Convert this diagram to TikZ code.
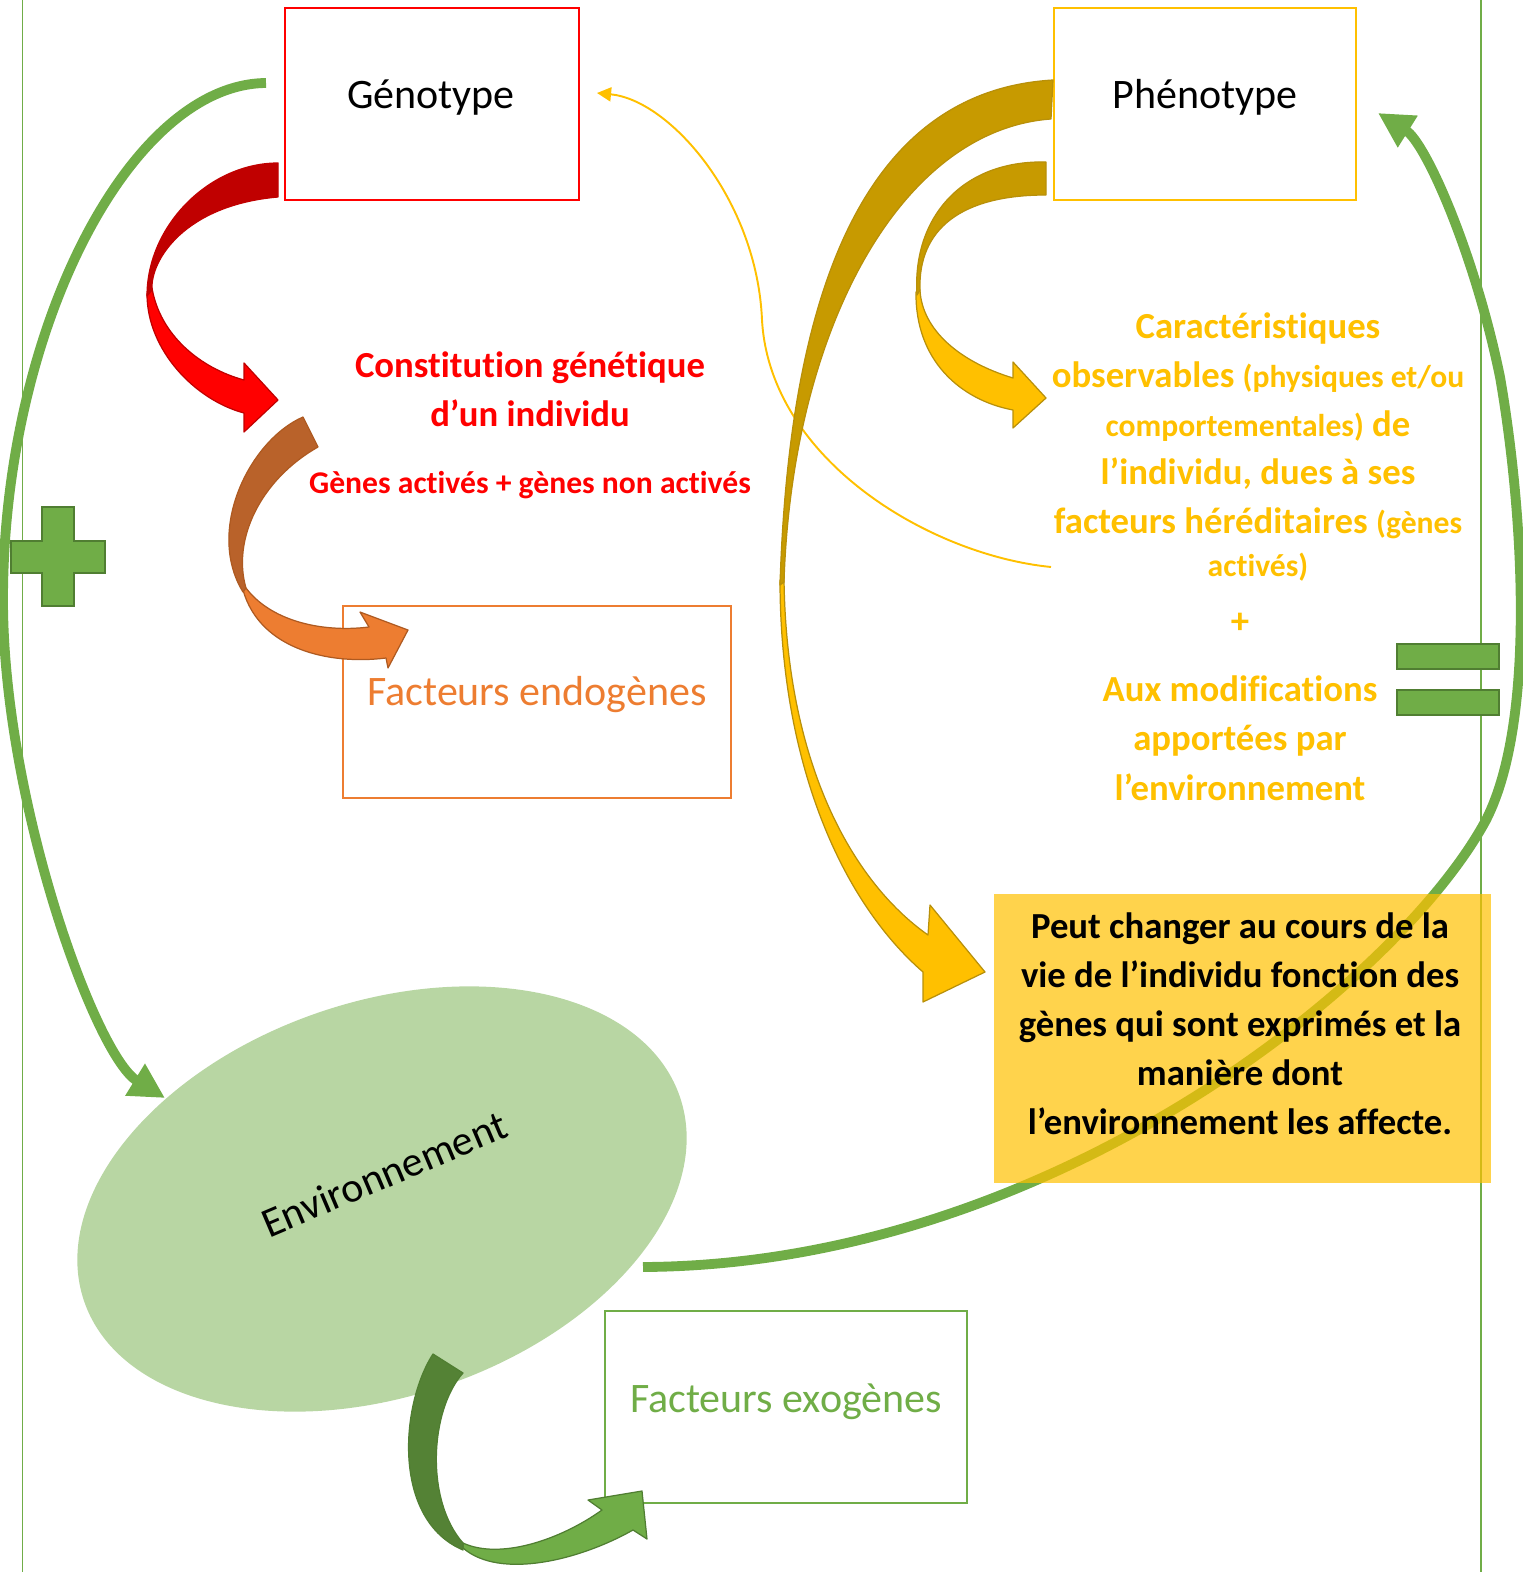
\documentclass[tikz,border=0pt]{standalone}
\usepackage{fontspec}
\setmainfont{Carlito}[Ligatures=NoCommon]
\usetikzlibrary{arrows.meta,shapes.geometric}
\definecolor{xgreen}{HTML}{70AD47}
\definecolor{xgreendk}{HTML}{548235}
\definecolor{xgreenln}{HTML}{507E32}
\definecolor{envgreen}{HTML}{B8D6A3}
\definecolor{xgold}{HTML}{FFC000}
\definecolor{xgolddk}{HTML}{C79A00}
\definecolor{xgoldln}{HTML}{B8900A}
\definecolor{xorange}{HTML}{ED7D31}
\definecolor{xbrown}{HTML}{B9622A}
\definecolor{xorangeln}{HTML}{AE5A21}
\definecolor{xred}{HTML}{FF0000}
\definecolor{xreddk}{HTML}{C00000}
\begin{document}
\begin{tikzpicture}[x=0.02cm,y=-0.02cm,
    box/.style={draw,line width=1pt,inner sep=0pt,minimum height=3.84cm},
    big/.style={anchor=base,font=\fontsize{23.9}{28}\selectfont},
    bold/.style={anchor=base,font=\bfseries\fontsize{20.9}{25}\selectfont},
    small/.style={anchor=base,font=\bfseries\fontsize{18}{22}\selectfont},
    garc/.style={draw=xgreen,line width=5.6pt,-{Triangle[length=20pt,width=20pt]}},
    blk/.style={line width=0.7pt,line join=round}]
    \useasboundingbox (0,0) rectangle (1523,1572);
    \draw[xgreen,line width=0.9pt] (22.5,0) -- (22.5,1572);
    \draw[xgreen,line width=0.9pt] (1481,0) -- (1481,1572);
    % boxes
    \node[box,draw=xred,minimum width=5.88cm] (geno) at (432,104) {};
    \node[box,draw=xgold,minimum width=6.04cm] (pheno) at (1205,104) {};
    \node[box,draw=xorange,minimum width=7.76cm] (endo) at (537,702) {};
    \node[box,draw=xgreen,minimum width=7.24cm] (exo) at (786,1407) {};
    \node[ellipse,fill=envgreen,inner sep=0pt,minimum width=12.6cm,minimum height=7.88cm,rotate=19] (env) at (382,1199) {};
    % green arcs
    \coordinate (genoout) at (266,83);
    \coordinate (envin) at (165,1098);
    \coordinate (envout) at (643,1267);
    \coordinate (phenoin) at (1378,113);
    \draw[garc] (genoout) .. controls (130,84) and (3,330) .. (3,600)
        .. controls (3,800) and (95,1055) .. (envin);
    \draw[garc] (envout) .. controls (1050,1265) and (1400,980) .. (1486,820)
        .. controls (1538,718) and (1522,503) .. (1500,377)
        .. controls (1475,255) and (1426,143) .. (phenoin);
    % thin arrow back to genotype
    \coordinate (phenoback) at (1051,567);
    \coordinate (genoin) at (597,93);
    \draw[xgold,line width=1.1pt,-{Triangle[length=8pt,width=8pt]}] (phenoback)
        .. controls (930,555) and (770,460) .. (762,320)
        .. controls (757,200) and (670,100) .. (genoin);
    % red block arrow
    \filldraw[blk,fill=xred,draw=xreddk] (147,294) .. controls (147,350) and (195,400) .. (244,413)
        -- (244,432) -- (278,400) -- (244,363) -- (244,380)
        .. controls (200,368) and (160,335) .. (152,288) -- cycle;
    \filldraw[blk,fill=xreddk,draw=xreddk] (278,163) .. controls (210,163) and (147,225) .. (147,296)
        -- (152,290) .. controls (150,260) and (185,205) .. (278,197) -- cycle;
    % orange block arrow
    \filldraw[blk,fill=xorange,draw=xorangeln] (243,590) .. controls (260,650) and (330,665) .. (386,658)
        -- (388,668) -- (408,630) -- (360,612) -- (369,627)
        .. controls (320,633) and (270,620) .. (246,588) -- cycle;
    \filldraw[blk,fill=xbrown,draw=xorangeln] (303,417) .. controls (250,440) and (205,530) .. (243,592)
        -- (246,588) .. controls (232,540) and (260,480) .. (318,447) -- cycle;
    % big gold block arrow
    \filldraw[blk,fill=xgold,draw=xgoldln] (780,580) .. controls (780,760) and (840,900) .. (923,972)
        -- (923,1002) -- (985,972) -- (930,905) -- (928,935)
        .. controls (850,880) and (786,760) .. (784,578) -- cycle;
    \filldraw[blk,fill=xgolddk,draw=xgoldln] (1053,80) .. controls (880,90) and (790,260) .. (780,585)
        -- (784,582) .. controls (792,330) and (900,130) .. (1051,119) -- cycle;
    % small gold block arrow
    \filldraw[blk,fill=xgold,draw=xgoldln] (916,292) .. controls (915,360) and (960,400) .. (1013,410)
        -- (1013,428) -- (1046,398) -- (1013,362) -- (1013,378)
        .. controls (960,362) and (922,330) .. (920,290) -- cycle;
    \filldraw[blk,fill=xgolddk,draw=xgoldln] (1046,162) .. controls (960,160) and (912,220) .. (917,295)
        -- (920,290) .. controls (918,230) and (960,195) .. (1046,195) -- cycle;
    % green block arrow
    \filldraw[blk,fill=xgreen,draw=xgreenln] (463,1548) .. controls (500,1580) and (580,1560) .. (633,1530)
        -- (647,1539) -- (642,1491) -- (588,1500) -- (602,1510)
        .. controls (560,1540) and (500,1560) .. (463,1543) -- cycle;
    \filldraw[blk,fill=xgreendk,draw=xgreenln] (433,1354) .. controls (400,1405) and (392,1520) .. (463,1550)
        -- (463,1543) .. controls (425,1500) and (430,1410) .. (463,1373) -- cycle;
    % yellow box
    \node[fill=xgold,fill opacity=0.7,inner sep=0pt,minimum width=9.94cm,minimum height=5.78cm] (chg) at (1242.5,1038.5) {};
    % plus and equals
    \filldraw[fill=xgreen,draw=xgreenln,line width=0.8pt] (11,541) -- (42,541) -- (42,507) -- (74,507) -- (74,541) -- (105,541)
        -- (105,573) -- (74,573) -- (74,606) -- (42,606) -- (42,573) -- (11,573) -- cycle;
    \filldraw[fill=xgreen,draw=xgreenln,line width=0.8pt] (1397,644) rectangle (1499,669);
    \filldraw[fill=xgreen,draw=xgreenln,line width=0.8pt] (1397,690) rectangle (1499,715);
    % texts
    \node[big] (genotxt) at (431,108) {Génotype};
    \node[big] (phenotxt) at (1205,108) {Phénotype};
    \node[big,text=xorange] (endotxt) at (537,705) {Facteurs endogènes};
    \node[big,text=xgreen] (exotxt) at (786,1412) {Facteurs exogènes};
    \node[font=\fontsize{23.9}{28}\selectfont,rotate=23] (envtxt) at (384,1174) {Environnement};
    \node[bold,text=xred] (const1) at (530,377) {Constitution génétique};
    \node[bold,text=xred] (const2) at (530,426) {d’un individu};
    \node[small,text=xred] (genes) at (530,493) {Gènes activés + gènes non activés};
    \node[bold,text=xgold] (car1) at (1258,338) {Caractéristiques};
    \node[bold,text=xgold] (car2) at (1258,387) {observables {\fontsize{18}{22}\selectfont(physiques et/ou}};
    \node[bold,text=xgold] (car3) at (1258,436) {{\fontsize{18}{22}\selectfont comportementales)} de};
    \node[bold,text=xgold] (car4) at (1258,484) {l’individu, dues à ses};
    \node[bold,text=xgold] (car5) at (1258,533) {facteurs héréditaires {\fontsize{18}{22}\selectfont(gènes}};
    \node[small,text=xgold] (car6) at (1258,576) {activés)};
    \node[bold,text=xgold] (plus) at (1240,633) {+};
    \node[bold,text=xgold] (mod1) at (1240,701) {Aux modifications};
    \node[bold,text=xgold] (mod2) at (1240,750) {apportées par};
    \node[bold,text=xgold] (mod3) at (1240,800) {l’environnement};
    \node[bold] (chg1) at (1240,938) {Peut changer au cours de la};
    \node[bold] (chg2) at (1240,987) {vie de l’individu fonction des};
    \node[bold] (chg3) at (1240,1036) {gènes qui sont exprimés et la};
    \node[bold] (chg4) at (1240,1085) {manière dont};
    \node[bold] (chg5) at (1240,1134) {l’environnement les affecte.};
\end{tikzpicture}
\end{document}
